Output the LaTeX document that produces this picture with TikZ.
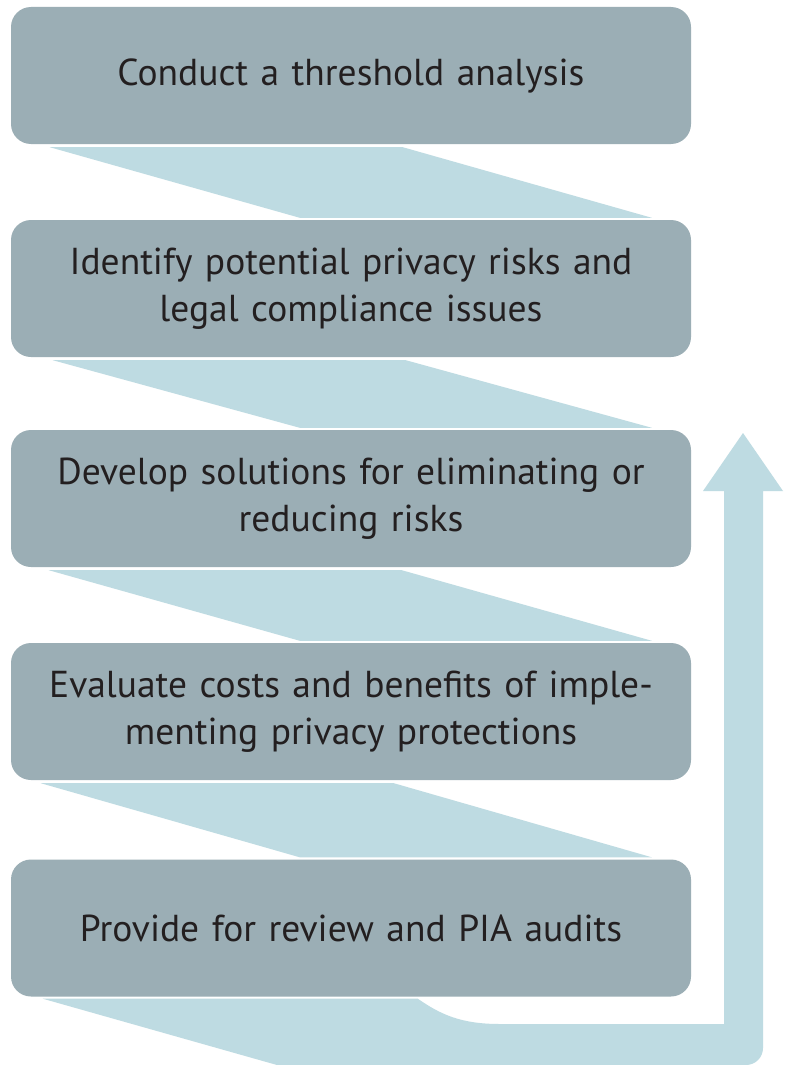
\documentclass[tikz,border=0pt]{standalone}
\usepackage{fontspec}
\setmainfont{PT Sans}
\usetikzlibrary{calc}
\definecolor{boxgrey}{HTML}{9BAEB5}
\definecolor{bandblue}{HTML}{BEDBE2}
\definecolor{txt}{HTML}{231F20}
\begin{document}
\begin{tikzpicture}[x=1pt,y=-1pt,
  stepbox/.style={fill=boxgrey, rounded corners=20pt, minimum width=680pt, minimum height=137pt,
    inner sep=0pt, text=txt, font=\fontsize{37.5}{47}\selectfont, align=center, text width=660pt},
  band/.style={fill=bandblue}]
\useasboundingbox (0,0) rectangle (788,1065);
\fill[white] (0,0) rectangle (788,1065);
\node[stepbox] (b1) at (351,75.5) {Conduct a threshold analysis};
\node[stepbox] (b2) at (351,288.5) {Identify potential privacy risks and\\legal compliance issues};
\node[stepbox] (b3) at (351,498.5) {Develop solutions for eliminating or\\reducing risks};
\node[stepbox] (b4) at (351,711.5) {Evaluate costs and benefits of imple-\\menting privacy protections};
\node[stepbox] (b5) at (351,928) {Provide for review and PIA audits};
\foreach \a/\b/\l in {b1/b2/39, b2/b3/42, b3/b4/38, b4/b5/30}{
  \fill[band] ($(\a.south west)+(\l,3)$) -- ($(\a.south west)+(\l+353,3)$)
     -- ($(\b.north west)+(641,-2)$) -- ($(\b.north west)+(289,-2)$) -- cycle;
}
\coordinate (tip) at (743,433);
\fill[band] ($(b5.south west)+(32,2)$) -- ($(b5.south west)+(407,2)$)
   .. controls (440,1014) and (460,1024) .. (500,1024)
   -- (724,1024) -- (724,491) -- (703,491) -- (tip) -- (783,491) -- (763,491)
   -- (763,1048) arc[start angle=0, end angle=90, radius=17] -- (277,1065) -- cycle;
\end{tikzpicture}
\end{document}
